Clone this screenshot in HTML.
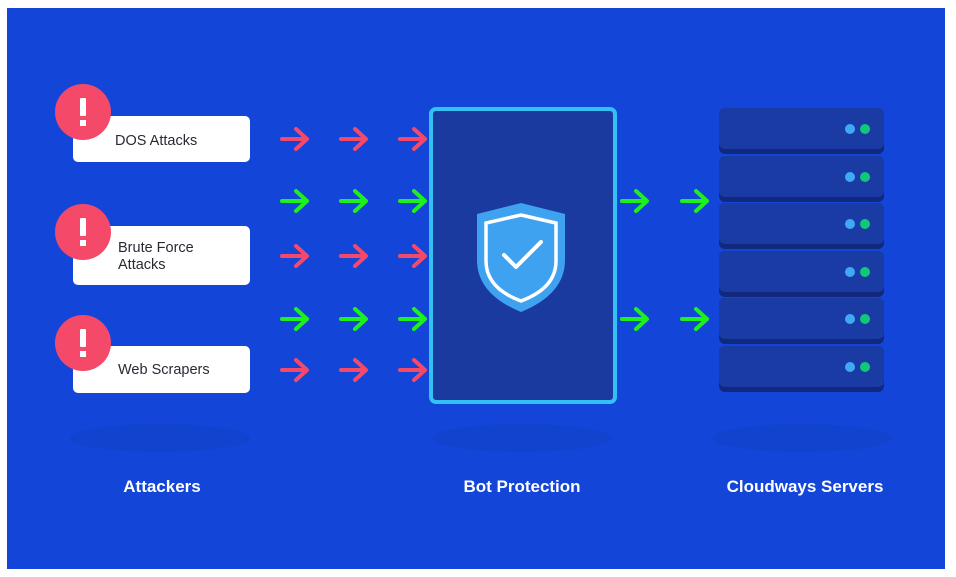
<!DOCTYPE html>
<html><head><meta charset="utf-8"><style>
html,body{margin:0;padding:0;background:#fff;width:956px;height:577px;overflow:hidden}
svg{display:block}
text{font-family:"Liberation Sans",sans-serif}
</style></head><body>
<svg width="956" height="577" viewBox="0 0 956 577" xmlns="http://www.w3.org/2000/svg">
<defs>
<g id="ar"><path d="M2 0 H26 M16 -10 L27 0 L16 10" fill="none" stroke-width="4" stroke-linecap="round" stroke-linejoin="round"/></g>
<g id="srv"><rect x="0" y="0" width="165" height="46" rx="6" fill="#10297c"/><rect x="0" y="0" width="165" height="41" rx="6" fill="#1a3ba3"/><circle cx="131" cy="21" r="5" fill="#3fa9f5"/><circle cx="146" cy="21" r="5" fill="#10c878"/></g>
</defs>
<rect x="7" y="8" width="938" height="561" fill="#1346d8"/>
<g fill="#1240c4" opacity="0.5">
<ellipse cx="160" cy="438" rx="90" ry="14"/>
<ellipse cx="522" cy="438" rx="90" ry="14"/>
<ellipse cx="802" cy="438" rx="90" ry="14"/>
</g>
<rect x="73" y="116" width="177" height="46" rx="5" fill="#fff"/>
<rect x="73" y="226" width="177" height="59" rx="5" fill="#fff"/>
<rect x="73" y="346" width="177" height="47" rx="5" fill="#fff"/>
<g font-size="14.5" fill="#2a2a35">
<text x="115" y="145">DOS Attacks</text>
<text x="118" y="252">Brute Force</text>
<text x="118" y="269">Attacks</text>
<text x="118" y="374">Web Scrapers</text>
</g>
<g fill="#f5496a">
<circle cx="83" cy="112" r="28"/><circle cx="83" cy="232" r="28"/><circle cx="83" cy="343" r="28"/>
</g>
<g fill="#fff">
<rect x="80" y="98" width="6" height="18" rx="1"/><rect x="80" y="120" width="6" height="6"/>
<rect x="80" y="218" width="6" height="18" rx="1"/><rect x="80" y="240" width="6" height="6"/>
<rect x="80" y="329" width="6" height="18" rx="1"/><rect x="80" y="351" width="6" height="6"/>
</g>
<g stroke="#f5496a">
<use href="#ar" x="280" y="139"/><use href="#ar" x="339" y="139"/><use href="#ar" x="398" y="139"/>
<use href="#ar" x="280" y="256"/><use href="#ar" x="339" y="256"/><use href="#ar" x="398" y="256"/>
<use href="#ar" x="280" y="370"/><use href="#ar" x="339" y="370"/><use href="#ar" x="398" y="370"/>
</g>
<g stroke="#1ef01e">
<use href="#ar" x="280" y="201"/><use href="#ar" x="339" y="201"/><use href="#ar" x="398" y="201"/>
<use href="#ar" x="280" y="319"/><use href="#ar" x="339" y="319"/><use href="#ar" x="398" y="319"/>
<use href="#ar" x="620" y="201"/><use href="#ar" x="680" y="201"/>
<use href="#ar" x="620" y="319"/><use href="#ar" x="680" y="319"/>
</g>
<rect x="431" y="109" width="184" height="293" rx="5" fill="#1a3aa0" stroke="#35c0f5" stroke-width="4"/>
<path d="M521 203 L565 214 V260 Q565 294 521 312 Q477 294 477 260 V214 Z" fill="#3fa2f0"/>
<path d="M521 215 L556 223 V261 Q556 288 521 301 Q486 288 486 261 V223 Z" fill="none" stroke="#fff" stroke-width="3.5"/>
<path d="M504 255 L516 267 L541 242" fill="none" stroke="#fff" stroke-width="4" stroke-linecap="round" stroke-linejoin="round"/>
<use href="#srv" x="719" y="108"/><use href="#srv" x="719" y="156"/><use href="#srv" x="719" y="203"/>
<use href="#srv" x="719" y="251"/><use href="#srv" x="719" y="298"/><use href="#srv" x="719" y="346"/>
<g font-size="17" font-weight="bold" fill="#fff" text-anchor="middle">
<text x="162" y="492">Attackers</text>
<text x="522" y="492">Bot Protection</text>
<text x="805" y="492">Cloudways Servers</text>
</g>
</svg>
</body></html>
